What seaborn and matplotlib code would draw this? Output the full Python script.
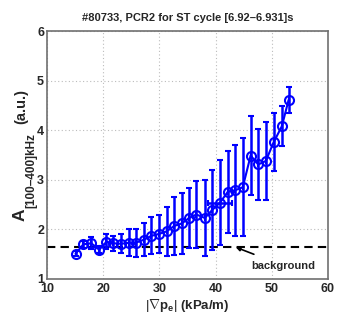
import matplotlib
matplotlib.use("Agg")
import matplotlib.pyplot as plt
import seaborn as sns
import numpy as np
import pandas as pd

# data
grad_pe = [15.1, 16.5, 17.9, 19.3, 20.6, 21.8, 23.2, 24.6, 25.8, 27.2,
           28.6, 30.0, 31.3, 32.65, 34.0, 35.3, 36.6, 38.1, 39.4, 40.8,
           42.2, 43.5, 44.85, 46.25, 47.6, 48.95, 50.35, 51.8, 53.0]
amplitude = [1.51, 1.70, 1.72, 1.59, 1.75, 1.72, 1.71, 1.73, 1.73, 1.79,
             1.87, 1.91, 1.96, 2.07, 2.12, 2.23, 2.30, 2.23, 2.39, 2.54,
             2.76, 2.79, 2.85, 3.49, 3.31, 3.38, 3.76, 4.08, 4.61]
amp_err = [0.05, 0.07, 0.12, 0.07, 0.15, 0.15, 0.19, 0.27, 0.28, 0.33,
           0.37, 0.39, 0.49, 0.58, 0.61, 0.61, 0.67, 0.76, 0.81, 0.85,
           0.83, 0.92, 0.99, 0.80, 0.72, 0.79, 0.58, 0.40, 0.26]
xerr_pt = {19: 2.1}
background_level = 1.65
title = "#80733, PCR2 for ST cycle [6.92\u20136.931]s"
ylabel_main = "A"
ylabel_sub = "[100\u2013400]kHz"
ylabel_unit = "(a.u.)"

df = pd.DataFrame({"x": grad_pe, "y": amplitude, "err": amp_err})

sns.set_style("white")
plt.rcParams['font.family'] = ['Liberation Sans', 'DejaVu Sans']
plt.rcParams['mathtext.fontset'] = 'custom'
plt.rcParams['mathtext.rm'] = 'Liberation Sans'
plt.rcParams['mathtext.bf'] = 'Liberation Sans:bold'
plt.rcParams['mathtext.it'] = 'Liberation Sans:italic'

W, H = 358, 321
fig = plt.figure(figsize=(W / 100, H / 100), dpi=100)
ax = fig.add_axes([0.131, 0.131, 0.785, 0.772])

blue = (0, 0, 1)
xerr = [xerr_pt.get(i, 0) for i in range(len(grad_pe))]
ax.errorbar(df["x"], df["y"], yerr=df["err"], xerr=xerr, fmt='none',
            ecolor=blue, elinewidth=1.8, capsize=2.5, capthick=1.5, zorder=2)
sns.lineplot(data=df, x="x", y="y", ax=ax, color=blue, lw=1.5,
             marker='o', markersize=6.5, markerfacecolor='none',
             markeredgecolor=blue, markeredgewidth=1.5, zorder=3)

ax.axhline(background_level, color='black', ls=(0, (4, 2.5)), lw=1.5, zorder=1)
ax.annotate("background", xy=(43.6, 1.64), xytext=(52.0, 1.27),
            ha='center', va='center', fontsize=8, fontweight='bold',
            arrowprops=dict(arrowstyle='-|>', color='black', lw=1.2,
                            mutation_scale=6, shrinkA=6, shrinkB=0))

ax.set_xlim(10, 60)
ax.set_ylim(1, 6)
ax.set_xticks([10, 20, 30, 40, 50, 60])
ax.set_yticks([1, 2, 3, 4, 5, 6])
ax.grid(True, color='#bcbcbc', ls=(0, (1, 2.2)), lw=0.8)
ax.tick_params(direction='in', length=2, labelsize=9, pad=2, color='#808080')
ax.tick_params(axis='x', pad=3)
for lab in ax.get_xticklabels() + ax.get_yticklabels():
    lab.set_fontweight('bold')
for s in ax.spines.values():
    s.set_color('#707070')
    s.set_linewidth(1.2)

ax.set_xlabel(r'$|\nabla\mathbf{p_e}|$ (kPa/m)', fontsize=9.5, fontweight='bold', labelpad=1)
ax.set_ylabel("")
# y-label composed of pieces: main letter, large subscript, unit
def ftext(px, py, s, size):
    fig.text(px / W, 1 - py / H, s, rotation=90, rotation_mode='anchor',
             ha='left', va='baseline', fontsize=size, fontweight='bold')
ftext(25, 221, ylabel_main, 12.5)
ftext(34.3, 207.5, ylabel_sub, 8.5)
ftext(25.5, 124, ylabel_unit, 10.5)

ax.set_title(title, fontsize=8, fontweight='bold', pad=7)

fig.savefig("out.png", dpi=100)
